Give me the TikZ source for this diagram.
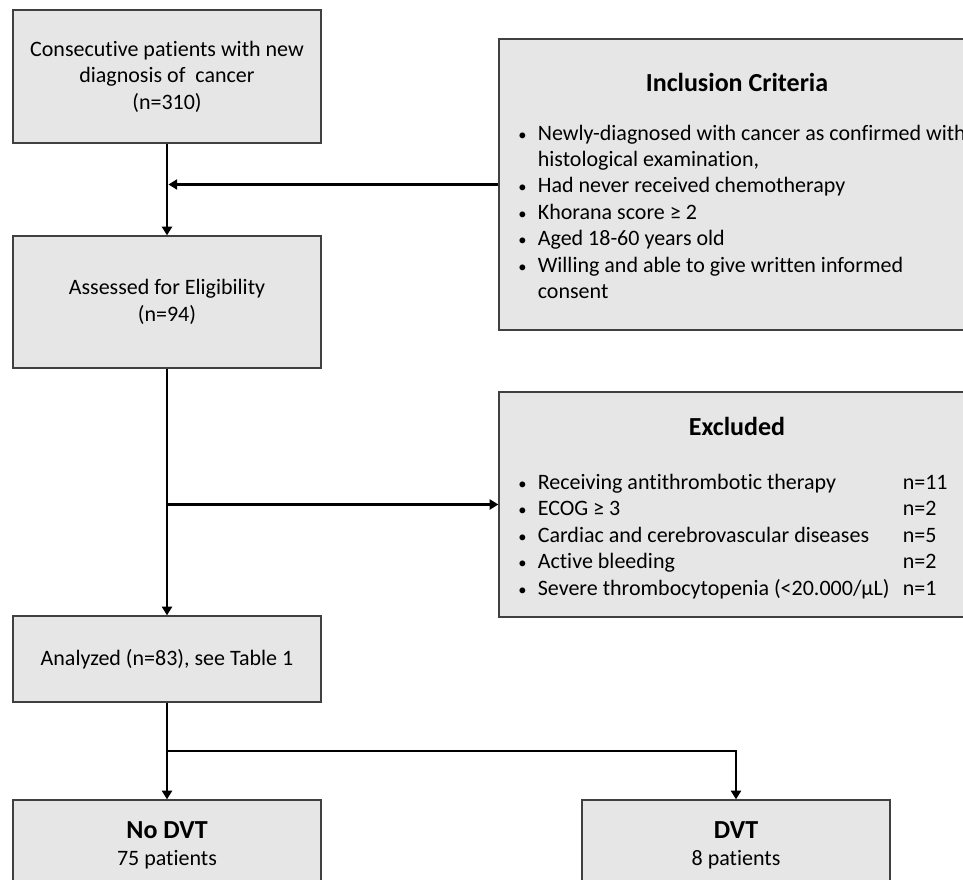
\documentclass[tikz,border=0pt]{standalone}
\usepackage{fontspec}
\setmainfont{Carlito}[Ligatures=NoCommon]
\usetikzlibrary{arrows.meta}
\definecolor{boxgray}{HTML}{E6E6E6}
\definecolor{edgegray}{HTML}{404040}
\newcommand\itemdot{\scalebox{0.75}{\textbullet}}
\begin{document}
\begin{tikzpicture}[x=0.75pt,y=-0.75pt,
 box/.style={draw=edgegray,fill=boxgray,line width=1pt,inner sep=0pt},
 body/.style={font=\fontsize{16.5}{19.8}\selectfont,align=center},
 head/.style={font=\fontsize{19.5}{23}\selectfont\bfseries,align=center,inner sep=0pt},
 flow/.style={line width=2.2pt,-{Triangle[length=6.5pt,width=7.5pt]}}]
 \useasboundingbox (0,0) rectangle (963,880);
 \clip (0,0) rectangle (963,880);
 % left column
 \node[box,body,minimum width=231pt,minimum height=99.75pt] (start) at (167,76.5)
  {Consecutive patients with new\\diagnosis of~ cancer\\(n=310)};
 \node[box,body,minimum width=231pt,minimum height=99pt] (assess) at (167,302)
  {Assessed for Eligibility\\(n=94)};
 \node[box,body,minimum width=231pt,minimum height=64.5pt] (analyzed) at (167,659)
  {Analyzed (n=83), see Table 1};
 \node[box,minimum width=231pt,minimum height=67.5pt] (nodvt) at (167,845) {};
 \node[head] (nodvthead) at (167,830) {No DVT};
 \node[body,inner sep=0pt] (nodvtn) at (167,860) {75 patients};
 \node[box,minimum width=231pt,minimum height=67.5pt] (dvt) at (736,845) {};
 \node[head] (dvthead) at (736,830) {DVT};
 \node[body,inner sep=0pt] (dvtn) at (736,860) {8 patients};
 % right column
 \node[box,minimum width=357pt,minimum height=218.25pt] (incl) at (737,184.5) {};
 \node[head] (inclhead) at (737,82) {Inclusion Criteria};
 \node[body,anchor=west,inner sep=0pt] (incllist) at (518,214) {%
  \begin{tabular}{@{}l@{\hspace{8.5pt}}l@{}}
  \itemdot & Newly-diagnosed with cancer as confirmed with\\
   & histological examination,\\
  \itemdot & Had never received chemotherapy\\
  \itemdot & Khorana score ≥ 2\\
  \itemdot & Aged 18-60 years old\\
  \itemdot & Willing and able to give written informed\\
   & consent
  \end{tabular}};
 \node[box,minimum width=357pt,minimum height=168.75pt] (excl) at (737,504.5) {};
 \node[head] (exclhead) at (737,426) {Excluded};
 \node[body,anchor=west,inner sep=0pt] (excllist) at (518,537) {%
  \begin{tabular}{@{}l@{\hspace{8.5pt}}p{273.75pt}@{}l@{}}
  \itemdot & Receiving antithrombotic therapy & n=11\\
  \itemdot & ECOG ≥ 3 & n=2\\
  \itemdot & Cardiac and cerebrovascular diseases & n=5\\
  \itemdot & Active bleeding & n=2\\
  \itemdot & Severe thrombocytopenia (<20.000/µL) & n=1
  \end{tabular}};
 % connectors
 \coordinate (inclin) at (start.south |- incl.west);
 \coordinate (exclout) at (assess.south |- excl.west);
 \coordinate (split) at (167,751);
 \draw[flow] (start.south) -- (assess.north);
 \draw[flow,shorten >=1.1pt] (incl.west) -- (inclin);
 \draw[flow] (assess.south) -- (analyzed.north);
 \draw[flow] (exclout) -- (excl.west);
 \draw[flow] (analyzed.south) -- (split) -- (nodvt.north);
 \draw[flow] (split) -| (dvt.north);
\end{tikzpicture}
\end{document}
